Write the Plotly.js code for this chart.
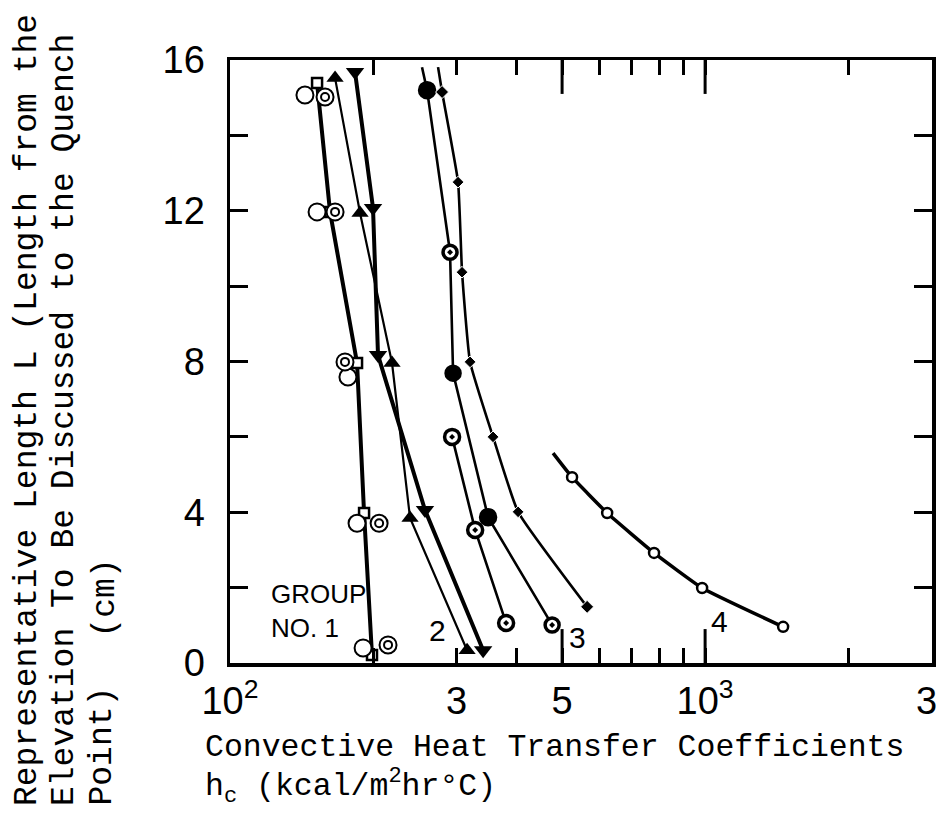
<!DOCTYPE html>
<html><head><meta charset="utf-8">
<script src="https://cdn.plot.ly/plotly-3.0.1.min.js"></script>
<style>html,body{margin:0;padding:0;background:#fff}</style>
</head><body><div id="chart" style="width:936px;height:822px"></div>
<script>
// ---- data (x: h_c in kcal/m2 hr C, y: L in cm) ----
var g1SquareX = [152.5, 162.4, 185.1, 191.5, 199.0];
var g1SquareY = [15.39, 11.97, 7.96, 3.98, 0.21];
var g1OpenX = [143.8, 152.5, 177.1, 185.1, 190.6];
var g1OpenY = [15.07, 11.97, 7.59, 3.71, 0.40];
var g1DotX = [158.5, 166.4, 174.6, 206.0, 215.1];
var g1DotY = [15.02, 11.97, 7.99, 3.71, 0.48];

var triUpX = [166.4, 187.8, 219.3, 239.3, 315.5];
var triUpY = [15.52, 11.94, 7.96, 3.85, 0.34];
var triDownX = [183.3, 200.0, 204.9, 257.3, 341.0];
var triDownY = [15.68, 12.07, 8.17, 4.06, 0.34];

var fillCircX = [253.6, 259.9, 290.5, 294.8, 349.3, 476.4];
var fillCircY = [15.81, 15.20, 10.90, 7.69, 3.87, 1.01];
var ringX = [293.4, 328.1, 381.2];
var ringY = [6.00, 3.53, 1.06];
var plusX = [274.1, 279.5, 302.0, 307.9, 320.1, 357.8, 404.0, 564.5];
var plusY = [15.81, 15.15, 12.76, 10.37, 7.99, 6.00, 4.01, 1.49];

var g4X = [478.6, 524.8, 622.1, 780.8, 985.6, 1459.5];
var g4Y = [5.57, 4.93, 3.98, 2.92, 1.99, 0.96];

var xTickVals = [100, 200, 300, 500, 1000, 2000, 3000];
var xTickText = ['10<sup>2</sup>', '', '3', '5', '10<sup>3</sup>', '', '3\u00a0'];
var xMinorVals = [400, 600, 700, 800, 900];
var xLongVals = [500, 1000];
var yTickVals = [0, 2, 4, 6, 8, 10, 12, 14, 16];
var yTickText = ['0', '', '4', '', '8', '', '12', '', '16'];
var yRange = [0, 16];

var labels = [
  {text: 'GROUP<br>NO. 1', x: 121, y: 1.37, anchor: 'left', size: 26},
  {text: '2', x: 274, y: 0.85, anchor: 'center', size: 30},
  {text: '3', x: 537.7, y: 0.69, anchor: 'center', size: 30},
  {text: '4', x: 1070, y: 1.09, anchor: 'center', size: 30}
];

// ---- traces ----
var K = '#000';
var longLen = 0.9; // long tick length in y units (about 34 px)
var longX = xLongVals.concat(xLongVals);
var longY = xLongVals.map(function () { return yRange[0]; }).concat(xLongVals.map(function () { return yRange[1]; }));
var longUp = xLongVals.map(function () { return longLen; }).concat(xLongVals.map(function () { return 0; }));
var longDown = xLongVals.map(function () { return 0; }).concat(xLongVals.map(function () { return longLen; }));

var traces = [
  {x: g1SquareX, y: g1SquareY, mode: 'lines+markers', line: {color: K, width: 4},
   marker: {symbol: 'square', size: 10, color: '#fff', opacity: 1, line: {color: K, width: 2.5}}},
  {x: g1OpenX, y: g1OpenY, mode: 'markers',
   marker: {symbol: 'circle', size: 17, color: '#fff', opacity: 1, line: {color: K, width: 2}}},
  {x: g1DotX, y: g1DotY, mode: 'markers',
   marker: {symbol: 'circle', size: 17, color: '#fff', opacity: 1, line: {color: K, width: 2}}},
  {x: g1DotX, y: g1DotY, mode: 'markers',
   marker: {symbol: 'circle-open', size: 8, color: K, opacity: 1, line: {color: K, width: 2}}},
  {x: triUpX, y: triUpY, mode: 'lines+markers', line: {color: K, width: 2.2},
   marker: {symbol: 'triangle-up', size: 15, color: K, opacity: 1}},
  {x: triDownX, y: triDownY, mode: 'lines+markers', line: {color: K, width: 4},
   marker: {symbol: 'triangle-down', size: 16, color: K, opacity: 1}},
  {x: fillCircX, y: fillCircY, mode: 'lines+markers', line: {color: K, width: 2.6},
   marker: {symbol: ['circle', 'circle', 'circle-dot', 'circle', 'circle', 'circle-dot'], opacity: 1,
            size: [0, 15, 14, 14, 15, 14], color: [K, K, '#fff', K, K, '#fff'], line: {color: K, width: 3.5}}},
  {x: ringX, y: ringY, mode: 'lines+markers', line: {color: K, width: 2.6},
   marker: {symbol: 'circle-dot', size: 15, color: '#fff', opacity: 1, line: {color: K, width: 3.5}}},
  {x: plusX, y: plusY, mode: 'lines+markers', line: {color: K, width: 2.6, shape: 'spline', smoothing: 0.4},
   marker: {symbol: 'diamond', size: [0, 10, 9, 9, 9, 9, 9, 10], color: K, opacity: 1}},
  {x: g4X, y: g4Y, mode: 'lines+markers', line: {color: K, width: 3.5, shape: 'spline', smoothing: 0.4},
   marker: {symbol: 'circle', size: [0, 10, 10, 10, 10, 10], color: '#fff', opacity: 1, line: {color: K, width: 2.5}}},
  // longer axis ticks at 500 and 1000 (bottom and top), drawn as error bars from the axis edges
  {x: longX, y: longY, mode: 'markers', marker: {size: 1, color: 'rgba(0,0,0,0)', opacity: 0},
   error_y: {type: 'data', symmetric: false, array: longUp, arrayminus: longDown,
             color: K, thickness: 3, width: 0, visible: true},
   cliponaxis: false, hoverinfo: 'skip'}
];

var narrow = 'Liberation Sans Narrow, Arial Narrow, Liberation Sans, sans-serif';
var tickFont = {family: narrow, size: 38, color: K};
var mono = {family: 'Liberation Mono, Courier New, monospace', size: 31.5, color: K};
var monoY = {family: 'Liberation Mono, Courier New, monospace', size: 33, color: K};

var ann = labels.map(function (l) {
  return {x: Math.log10(l.x), y: l.y, xref: 'x', yref: 'y', text: l.text, showarrow: false,
          xanchor: l.anchor, yanchor: 'middle', align: 'left',
          font: {family: narrow, size: l.size, color: K}};
});
ann.push(
  {xref: 'paper', yref: 'paper', x: -0.0385, y: -0.14, xanchor: 'left', yanchor: 'middle',
   text: 'Convective Heat Transfer Coefficients', showarrow: false, font: mono},
  {xref: 'paper', yref: 'paper', x: -0.0385, y: -0.205, xanchor: 'left', yanchor: 'middle',
   text: 'h<sub>c</sub> (kcal/m<sup>2</sup>hr°C)', showarrow: false, font: mono},
  {xref: 'paper', yref: 'paper', x: -0.2892, y: -0.2405, xanchor: 'center', yanchor: 'bottom', textangle: -90,
   text: 'Representative Length L (Length from the', showarrow: false, font: monoY},
  {xref: 'paper', yref: 'paper', x: -0.2365, y: -0.2405, xanchor: 'center', yanchor: 'bottom', textangle: -90,
   text: 'Elevation To Be Discussed to the Quench', showarrow: false, font: monoY},
  {xref: 'paper', yref: 'paper', x: -0.1809, y: -0.2405, xanchor: 'center', yanchor: 'bottom', textangle: -90,
   text: 'Point)', showarrow: false, font: monoY},
  {xref: 'paper', yref: 'paper', x: -0.1766, y: 0.038, xanchor: 'center', yanchor: 'bottom', textangle: -90,
   text: '(cm)', showarrow: false, font: monoY}
);

var xRange = [2, Math.log10(3003)];
var layout = {
  width: 936, height: 822,
  margin: {l: 230, r: 4, t: 60, b: 159, pad: 0},
  paper_bgcolor: '#fff', plot_bgcolor: '#fff',
  showlegend: false,
  xaxis: {type: 'log', range: xRange, showgrid: false, zeroline: false,
          showline: true, linecolor: K, linewidth: 3.5, mirror: 'ticks',
          ticks: 'inside', ticklen: 15, tickwidth: 3, tickcolor: K,
          tickmode: 'array', tickvals: xTickVals, ticktext: xTickText,
          tickfont: tickFont, ticklabelstandoff: 2, ticklabeloverflow: 'allow',
          minor: {tickmode: 'array', tickvals: xMinorVals, ticks: 'inside', ticklen: 15, tickwidth: 3, tickcolor: K, showgrid: false}},
  yaxis: {range: yRange, showgrid: false, zeroline: false,
          showline: true, linecolor: K, linewidth: 3.5, mirror: 'ticks',
          ticks: 'inside', ticklen: 18, tickwidth: 3, tickcolor: K,
          tickmode: 'array', tickvals: yTickVals, ticktext: yTickText,
          tickfont: tickFont, ticklabelstandoff: 14},
  annotations: ann
};

Plotly.newPlot('chart', traces, layout, {displayModeBar: false, staticPlot: true});
</script></body></html>
